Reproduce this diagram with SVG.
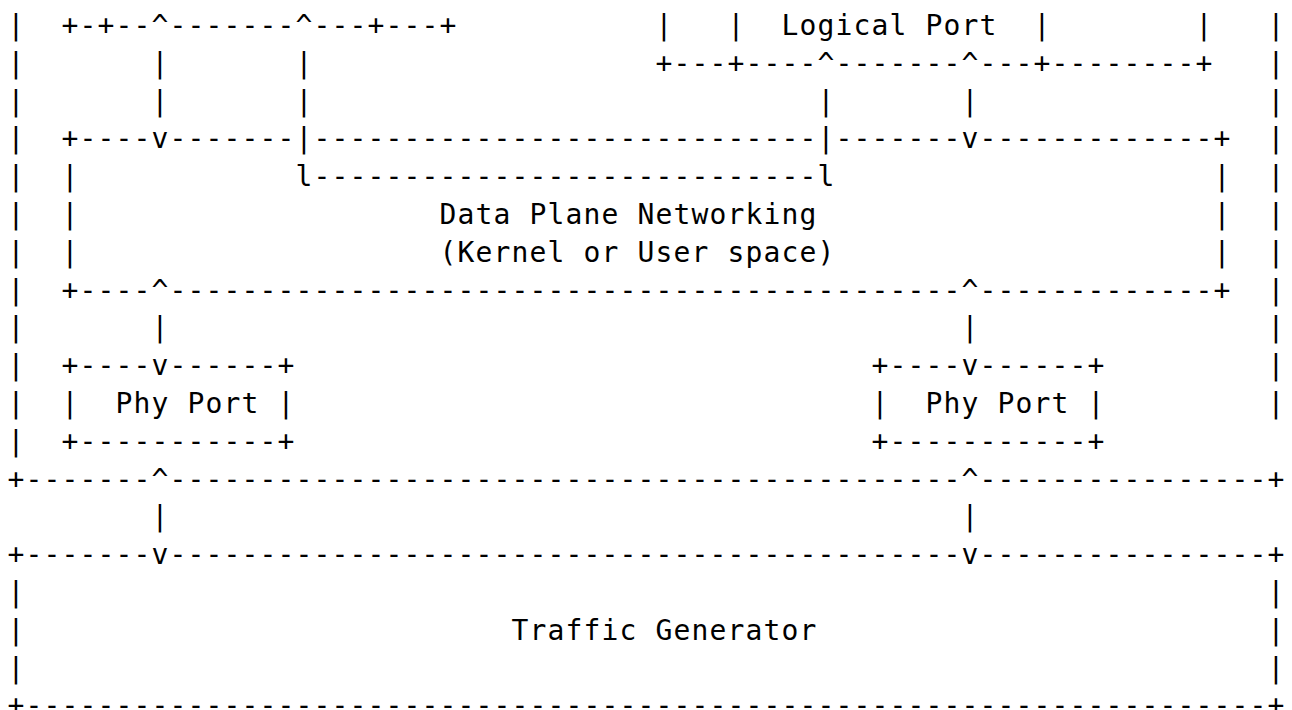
<svg xmlns="http://www.w3.org/2000/svg" width="1292" height="710" viewBox="0 0 1292 710">
  <style>
    /* monospace grid: 18px per column, 37.8px per row */
    text { font-family: "DejaVu Sans Mono", "Liberation Mono", monospace; font-size: 28px; letter-spacing: 1.143px; white-space: pre; fill: #000; }
  </style>
  <rect width="1292" height="710" fill="#fff"/>

  <!-- outer system box (left/right sides, bottom edge) -->
  <g id="system-box">
    <text><tspan x="7.6" y="35">|</tspan><tspan x="7.6" y="72.8">|</tspan><tspan x="7.6" y="110.6">|</tspan><tspan x="7.6" y="148.4">|</tspan><tspan x="7.6" y="186.2">|</tspan><tspan x="7.6" y="224">|</tspan><tspan x="7.6" y="261.8">|</tspan><tspan x="7.6" y="299.6">|</tspan><tspan x="7.6" y="337.4">|</tspan><tspan x="7.6" y="375.2">|</tspan><tspan x="7.6" y="413">|</tspan><tspan x="7.6" y="450.8">|</tspan></text>
    <text><tspan x="1267.6" y="35">|</tspan><tspan x="1267.6" y="72.8">|</tspan><tspan x="1267.6" y="110.6">|</tspan><tspan x="1267.6" y="148.4">|</tspan><tspan x="1267.6" y="186.2">|</tspan><tspan x="1267.6" y="224">|</tspan><tspan x="1267.6" y="261.8">|</tspan><tspan x="1267.6" y="299.6">|</tspan><tspan x="1267.6" y="337.4">|</tspan><tspan x="1267.6" y="375.2">|</tspan><tspan x="1267.6" y="413">|</tspan></text>
    <text y="488.6"><tspan x="7.6">+-------</tspan><tspan x="169.6">----------</tspan><tspan x="349.6">----------</tspan><tspan x="529.6">----------</tspan><tspan x="709.6">----------</tspan><tspan x="889.6">----</tspan><tspan x="979.6">----------</tspan><tspan x="1159.6">------+</tspan></text>
  </g>

  <!-- upper-left container, bottom edge -->
  <g id="vnf-box">
    <text y="35"><tspan x="61.6">+-+--</tspan><tspan x="169.6">-------</tspan><tspan x="313.6">---+---+</tspan></text>
  </g>

  <!-- logical port box -->
  <g id="logical-port">
    <text y="35"><tspan x="655.6">|</tspan><tspan x="727.6">|</tspan><tspan x="1033.6">|</tspan><tspan x="1195.6">|</tspan></text>
    <text x="781.6" y="35">Logical Port</text>
    <text y="72.8"><tspan x="655.6">+---+----</tspan><tspan x="835.6">-------</tspan><tspan x="979.6">---+--------+</tspan></text>
  </g>

  <!-- data plane networking box -->
  <g id="data-plane">
    <text y="148.4"><tspan x="61.6">+----</tspan><tspan x="169.6">-------</tspan><tspan x="313.6">----------</tspan><tspan x="493.6">----------</tspan><tspan x="673.6">--------</tspan><tspan x="835.6">-------</tspan><tspan x="979.6">----------</tspan><tspan x="1159.6">---+</tspan></text>
    <text><tspan x="61.6" y="186.2">|</tspan><tspan x="61.6" y="224">|</tspan><tspan x="61.6" y="261.8">|</tspan></text>
    <text><tspan x="1213.6" y="186.2">|</tspan><tspan x="1213.6" y="224">|</tspan><tspan x="1213.6" y="261.8">|</tspan></text>
    <text x="439.6" y="224">Data Plane Networking</text>
    <text x="439.6" y="261.8">(Kernel or User space)</text>
    <text y="299.6"><tspan x="61.6">+----</tspan><tspan x="169.6">----------</tspan><tspan x="349.6">----------</tspan><tspan x="529.6">----------</tspan><tspan x="709.6">----------</tspan><tspan x="889.6">----</tspan><tspan x="979.6">----------</tspan><tspan x="1159.6">---+</tspan></text>
  </g>

  <!-- physical ports -->
  <g id="phy-port-1">
    <text y="375.2"><tspan x="61.6">+----</tspan><tspan x="169.6">------+</tspan></text>
    <text y="413"><tspan x="61.6">|</tspan><tspan x="277.6">|</tspan></text>
    <text x="115.6" y="413">Phy Port</text>
    <text x="61.6" y="450.8">+-----------+</text>
  </g>
  <g id="phy-port-2">
    <text y="375.2"><tspan x="871.6">+----</tspan><tspan x="979.6">------+</tspan></text>
    <text y="413"><tspan x="871.6">|</tspan><tspan x="1087.6">|</tspan></text>
    <text x="925.6" y="413">Phy Port</text>
    <text x="871.6" y="450.8">+-----------+</text>
  </g>

  <!-- traffic generator -->
  <g id="traffic-generator">
    <text y="564.2"><tspan x="7.6">+-------</tspan><tspan x="169.6">----------</tspan><tspan x="349.6">----------</tspan><tspan x="529.6">----------</tspan><tspan x="709.6">----------</tspan><tspan x="889.6">----</tspan><tspan x="979.6">----------</tspan><tspan x="1159.6">------+</tspan></text>
    <text><tspan x="7.6" y="602">|</tspan><tspan x="7.6" y="639.8">|</tspan><tspan x="7.6" y="677.6">|</tspan></text>
    <text><tspan x="1267.6" y="602">|</tspan><tspan x="1267.6" y="639.8">|</tspan><tspan x="1267.6" y="677.6">|</tspan></text>
    <text x="511.6" y="639.8">Traffic Generator</text>
    <text y="715.4"><tspan x="7.6">+---------</tspan><tspan x="187.6">----------</tspan><tspan x="367.6">----------</tspan><tspan x="547.6">----------</tspan><tspan x="727.6">----------</tspan><tspan x="907.6">----------</tspan><tspan x="1087.6">----------</tspan><tspan x="1267.6">+</tspan></text>
  </g>

  <!-- connectors drawn on the character grid -->
  <g id="connectors">
    <!-- VNF to data plane, left -->
    <text><tspan x="151.6" y="35">^</tspan><tspan x="151.6" y="72.8">|</tspan><tspan x="151.6" y="110.6">|</tspan><tspan x="151.6" y="148.4">v</tspan></text>
    <!-- loop from VNF through data plane to logical port -->
    <text><tspan x="295.6" y="35">^</tspan><tspan x="295.6" y="72.8">|</tspan><tspan x="295.6" y="110.6">|</tspan><tspan x="295.6" y="148.4">|</tspan><tspan x="295.6" y="186.2">l</tspan></text>
    <text y="186.2"><tspan x="313.6">----------</tspan><tspan x="493.6">----------</tspan><tspan x="673.6">--------</tspan></text>
    <text><tspan x="817.6" y="186.2">l</tspan><tspan x="817.6" y="148.4">|</tspan><tspan x="817.6" y="110.6">|</tspan><tspan x="817.6" y="72.8">^</tspan></text>
    <!-- logical port to data plane, right -->
    <text><tspan x="961.6" y="72.8">^</tspan><tspan x="961.6" y="110.6">|</tspan><tspan x="961.6" y="148.4">v</tspan></text>
    <!-- data plane to phy ports -->
    <text><tspan x="151.6" y="299.6">^</tspan><tspan x="151.6" y="337.4">|</tspan><tspan x="151.6" y="375.2">v</tspan></text>
    <text><tspan x="961.6" y="299.6">^</tspan><tspan x="961.6" y="337.4">|</tspan><tspan x="961.6" y="375.2">v</tspan></text>
    <!-- system to traffic generator -->
    <text><tspan x="151.6" y="488.6">^</tspan><tspan x="151.6" y="526.4">|</tspan><tspan x="151.6" y="564.2">v</tspan></text>
    <text><tspan x="961.6" y="488.6">^</tspan><tspan x="961.6" y="526.4">|</tspan><tspan x="961.6" y="564.2">v</tspan></text>
  </g>
</svg>
